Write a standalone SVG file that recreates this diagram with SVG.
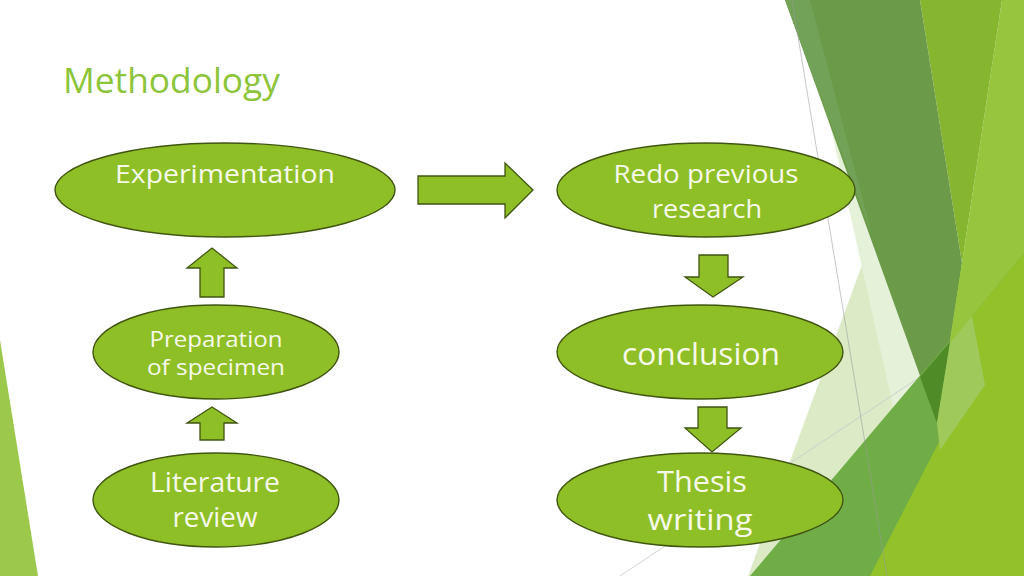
<svg xmlns="http://www.w3.org/2000/svg" width="1024" height="576" viewBox="0 0 1024 576">
<style>
.node{fill:#8fbf27;stroke:#405510;stroke-width:1.4}
.arr{fill:#8fbf27;stroke:#405510;stroke-width:1.3;stroke-linejoin:miter}
.t{font-family:"Open Sans","Liberation Sans",sans-serif;fill:#f6f9ea;text-anchor:middle}
.title{font-family:"Open Sans","Liberation Sans",sans-serif;fill:#8cc43a;font-size:34px}
</style>
<rect width="1024" height="576" fill="#ffffff"/>
<g id="background">
<polygon points="0,340 38,576 0,576" fill="#9cc84c"/>
<polygon points="1002,0 1024,0 1024,576 870,576 945,330 962,263" fill="#97c63e"/>
<polygon points="920,0 1002,0 962,263" fill="#86b52f"/>
<polygon points="873,235 947,440 900,576 748,576" fill="#dcebc6"/>
<polygon points="828,115 850,175 937,423 905,460" fill="#e6f1da"/>
<line x1="620" y1="576" x2="1024" y2="308" stroke="#c8c8c8" stroke-width="0.8"/>
<polygon points="785,0 920,0 962,263 937,423" fill="#6b9b48"/>
<polygon points="785,0 810,0 872,235" fill="#72a257"/>
<polygon points="750,576 1024,253 1024,576" fill="#70ad47"/>
<polygon points="920,377 950,342 937,423" fill="#4f8b27"/>
<polygon points="870,576 1024,576 1024,253 950,343 940,440" fill="#92c12a"/>
<polygon points="962,263 985,385 940,450 937,423 950,343" fill="#a0c95c"/>
<polygon points="1024,253 950,343 962,263 1024,150" fill="#97c63e"/>
<line x1="792" y1="0" x2="887" y2="576" stroke="#9a9a9a" stroke-width="0.8" opacity="0.7"/>
</g>
<text class="title" x="63" y="93" textLength="217" lengthAdjust="spacingAndGlyphs">Methodology</text>
<g id="connectors">
<polygon class="arr" points="418,176 505,176 505,163 533,190 505,218 505,204 418,204"/>
<polygon class="arr" points="200,297 200,268 187,268 212,248 237,268 224,268 224,297"/>
<polygon class="arr" points="200,440 200,423 187,423 212,407 237,423 224,423 224,440"/>
<polygon class="arr" points="699,255 728,255 728,277 743,277 713,297 685,277 699,277"/>
<polygon class="arr" points="698,407 727,407 727,428 741,428 712,452 685,428 698,428"/>
</g>
<g id="n-experimentation">
<ellipse class="node" cx="225" cy="190" rx="170" ry="47"/>
<text class="t" x="225" y="183" font-size="26" textLength="220" lengthAdjust="spacingAndGlyphs">Experimentation</text>
</g>
<g id="n-redo">
<ellipse class="node" cx="706" cy="190" rx="149" ry="47"/>
<text class="t" x="706" y="183" font-size="26" textLength="185" lengthAdjust="spacingAndGlyphs">Redo previous</text>
<text class="t" x="707" y="218" font-size="26" textLength="110" lengthAdjust="spacingAndGlyphs">research</text>
</g>
<g id="n-preparation">
<ellipse class="node" cx="216" cy="352" rx="123" ry="47"/>
<text class="t" x="216" y="347" font-size="22" textLength="133" lengthAdjust="spacingAndGlyphs">Preparation</text>
<text class="t" x="216" y="375" font-size="22" textLength="138" lengthAdjust="spacingAndGlyphs">of specimen</text>
</g>
<g id="n-literature">
<ellipse class="node" cx="216" cy="500" rx="123" ry="47"/>
<text class="t" x="215" y="492" font-size="28" textLength="130" lengthAdjust="spacingAndGlyphs">Literature</text>
<text class="t" x="215" y="527" font-size="28" textLength="85" lengthAdjust="spacingAndGlyphs">review</text>
</g>
<g id="n-conclusion">
<ellipse class="node" cx="700" cy="352" rx="143" ry="47"/>
<text class="t" x="701" y="365" font-size="31" textLength="158" lengthAdjust="spacingAndGlyphs">conclusion</text>
</g>
<g id="n-thesis">
<ellipse class="node" cx="700" cy="500" rx="143" ry="47"/>
<text class="t" x="702" y="492" font-size="30" textLength="90" lengthAdjust="spacingAndGlyphs">Thesis</text>
<text class="t" x="700" y="530" font-size="30" textLength="105" lengthAdjust="spacingAndGlyphs">writing</text>
</g>
</svg>
